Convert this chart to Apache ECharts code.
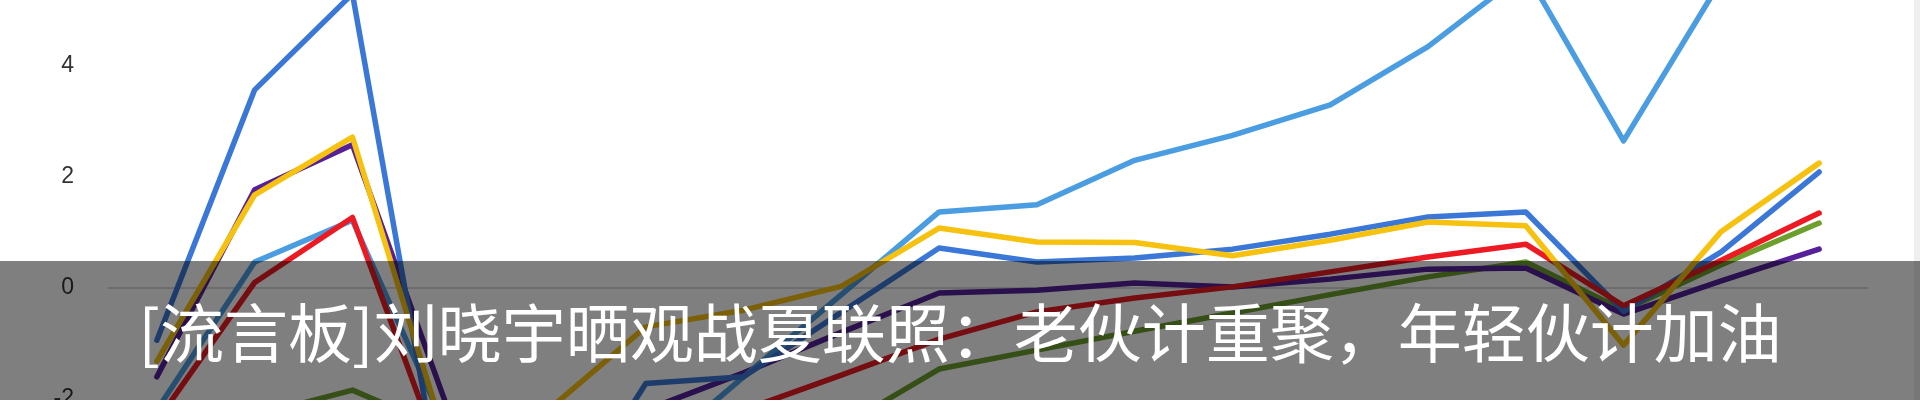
<!DOCTYPE html>
<html>
<head>
<meta charset="utf-8">
<script src="https://cdn.jsdelivr.net/npm/echarts@6/dist/echarts.min.js"></script>
<style>
html,body{margin:0;padding:0;background:#ffffff;overflow:hidden;width:1920px;height:400px;position:relative}
#chart{position:absolute;left:0;top:-156px;width:1920px;height:777px}
</style>
</head>
<body>
<div id="chart"></div>
<script>
// ---- data ----
const categories = ["1","2","3","4","5","6","7","8","9","10","11","12","13","14","15","16","17","18"];
const yTicks = [-2, 0, 2, 4];

const greenVals     = [-2.8, -2.3, -1.84, -2.6, -3.0, -3.0, -2.9, -2.5, -1.46, -1.12, -0.78, -0.45, -0.12, 0.2, 0.47, -0.4, 0.42, 1.17];
const purpleVals    = [-1.6, 1.77, 2.58, -2.3, -2.6, -2.2, -1.53, -0.8, -0.09, -0.04, 0.09, 0.02, 0.16, 0.34, 0.36, -0.47, 0.13, 0.7];
const lightBlueVals = [-2.2, 0.47, 1.22, -2.7, -3.0, -3.1, -1.6, -0.12, 1.37, 1.5, 2.3, 2.75, 3.3, 4.35, 5.7, 2.65, 5.55, 6.0];
const blueVals      = [-0.94, 3.57, 5.3, -4.6, -4.5, -1.72, -1.6, -0.44, 0.72, 0.47, 0.54, 0.7, 0.97, 1.28, 1.37, -0.42, 0.65, 2.09];
const redVals       = [-2.4, 0.1, 1.27, -3.5, -3.0, -2.6, -2.2, -1.57, -0.92, -0.43, -0.18, 0.02, 0.29, 0.56, 0.79, -0.32, 0.5, 1.35];
const yellowVals    = [-1.32, 1.68, 2.72, -3.0, -2.2, -0.7, -0.4, 0.03, 1.08, 0.83, 0.82, 0.58, 0.86, 1.19, 1.12, -1.03, 1.02, 2.25];

const caption = "[流言板]刘晓宇晒观战夏联照：老伙计重聚，年轻伙计加油";

// ---- chart ----
const seriesDefs = [
  { name: "绿", data: greenVals,     color: "#6c9f2c" },
  { name: "紫", data: purpleVals,    color: "#55209a" },
  { name: "浅蓝", data: lightBlueVals, color: "#4b9de2" },
  { name: "蓝", data: blueVals,      color: "#3a77d6" },
  { name: "红", data: redVals,       color: "#ec1a22" },
  { name: "黄", data: yellowVals,    color: "#f6c10f" }
];

// the chart box is shifted up by 156px so the visible 400px window shows v in about [-2.04, 5.19]
const shiftY = 156;

const chart = echarts.init(document.getElementById('chart'), null, { renderer: 'canvas' });

chart.setOption({
  animation: false,
  backgroundColor: '#ffffff',
  grid: { left: 108, right: 52, top: 0, bottom: 0, containLabel: false },
  xAxis: {
    type: 'category',
    data: categories,
    boundaryGap: true,
    axisLine: { show: true, onZero: true, lineStyle: { color: '#cdcdcd', width: 1.5 } },
    axisTick: { show: false },
    axisLabel: { show: false },
    splitLine: { show: false }
  },
  yAxis: {
    type: 'value',
    min: -6,
    max: 8,
    interval: 2,
    axisLine: { show: false },
    axisTick: { show: false },
    splitLine: { show: false },
    axisLabel: {
      margin: 34,
      color: '#333333',
      fontSize: 23,
      fontFamily: 'Liberation Sans, Arial, sans-serif',
      formatter: function (v) { return yTicks.indexOf(v) >= 0 ? String(v) : ''; }
    }
  },
  series: seriesDefs.map(function (s) {
    return {
      name: s.name,
      type: 'line',
      data: s.data,
      symbol: 'none',
      smooth: false,
      lineStyle: { color: s.color, width: 5.5, cap: 'round', join: 'round' },
      itemStyle: { color: s.color },
      emphasis: { disabled: true }
    };
  }),
  graphic: [
    { type: 'rect', z: 90, shape: { x: 1914, y: shiftY, width: 6, height: 400 }, style: { fill: '#efefef' } },
    { type: 'rect', z: 100, shape: { x: 0, y: shiftY + 261, width: 1920, height: 139 }, style: { fill: 'rgba(0,0,0,0.5)' } },
    {
      type: 'text', z: 110, x: 960, y: shiftY + 333,
      style: {
        text: caption,
        fill: '#ffffff',
        font: '400 64px "Noto Sans CJK SC", sans-serif',
        align: 'center',
        verticalAlign: 'middle'
      }
    }
  ]
});
</script>
</body>
</html>
